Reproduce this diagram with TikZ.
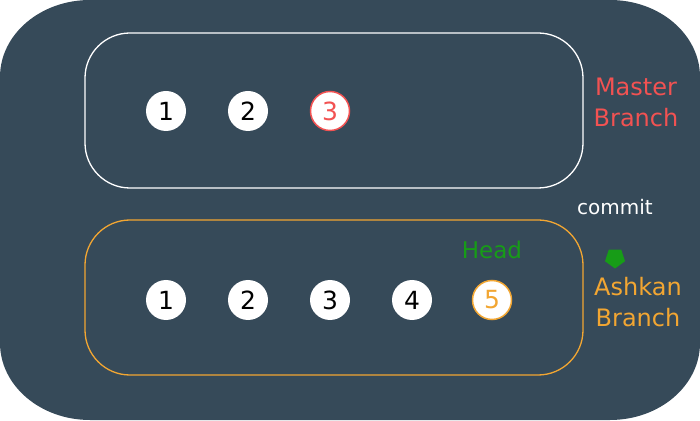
\documentclass[tikz,border=0pt]{standalone}
\usepackage{fontspec}
\setmainfont{DejaVu Sans}
\usetikzlibrary{shapes.geometric}
\definecolor{bg}{HTML}{364A59}
\definecolor{mred}{HTML}{F25252}
\definecolor{aorange}{HTML}{F2A632}
\definecolor{hgreen}{HTML}{179C17}
\tikzset{
  x=1pt,y=1pt,
  cnode/.style={circle,fill=white,minimum size=40pt,inner sep=0pt,font=\fontsize{25pt}{28pt}\selectfont,text=black},
  branchbox/.style={rounded corners=45pt,line width=1.3pt},
  lbl/.style={font=\fontsize{24pt}{31pt}\selectfont,align=center,inner sep=0pt}
}
\begin{document}
\begin{tikzpicture}
\useasboundingbox (0,0) rectangle (700,420);
\fill[bg] (90,420) -- (610,420) arc[start angle=90,end angle=0,x radius=90,y radius=77]
  -- (700,77) arc[start angle=0,end angle=-90,x radius=90,y radius=77]
  -- (90,0) arc[start angle=270,end angle=180,x radius=90,y radius=77]
  -- (0,343) arc[start angle=180,end angle=90,x radius=90,y radius=77] -- cycle;
% boxes
\draw[branchbox,white] (85,232) rectangle (583,387);
\draw[branchbox,aorange] (85,45) rectangle (583,200);
% master commits
\node[cnode] (m1) at (166,309) {1};
\node[cnode] (m2) at (248,309) {2};
\node[cnode,draw=mred,line width=1.5pt,text=mred,minimum size=39pt] (m3) at (330,309) {3};
% ashkan commits
\node[cnode] (a1) at (166,120) {1};
\node[cnode] (a2) at (248,120) {2};
\node[cnode] (a3) at (330,120) {3};
\node[cnode] (a4) at (412,120) {4};
\node[cnode,draw=aorange,line width=1.5pt,text=aorange,minimum size=39pt] (a5) at (492,120) {5};
% labels
\node[lbl,text=mred] (master) at (636,318) {Master\\Branch};
\node[lbl,text=aorange] (ashkan) at (638,118) {Ashkan\\Branch};
\node[font=\fontsize{20pt}{24pt}\selectfont,text=white,inner sep=0pt] (commit) at (615,213) {commit};
\node[font=\fontsize{23pt}{28pt}\selectfont,text=hgreen,inner sep=0pt] (head) at (492,170) {Head};
\node[regular polygon,regular polygon sides=5,shape border rotate=180,fill=hgreen,minimum size=21pt,inner sep=0pt] (mark) at (615,162) {};
\end{tikzpicture}
\end{document}
